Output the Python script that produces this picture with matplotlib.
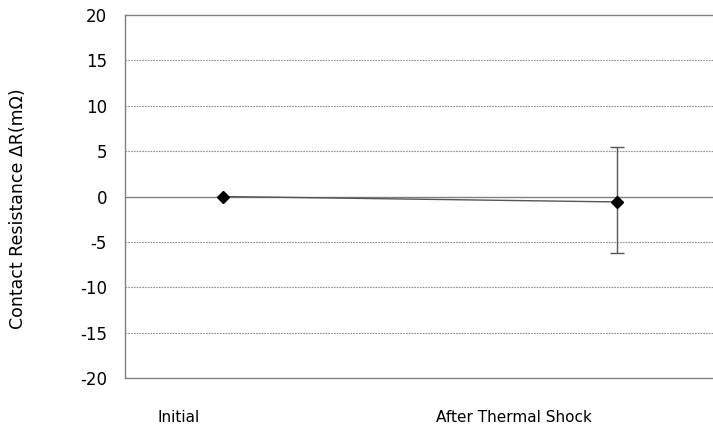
import matplotlib
matplotlib.use("Agg")
import matplotlib.pyplot as plt

categories = ["Initial", "After Thermal Shock"]
delta_r = [0.0, -0.6]
err_low = [0.0, 5.6]
err_high = [0.0, 6.1]
y_ticks = [-20, -15, -10, -5, 0, 5, 10, 15, 20]

plt.rcParams["font.family"] = ["DejaVu Sans"]
plt.rcParams["axes.unicode_minus"] = False

fig = plt.figure(figsize=(7.13, 4.25), dpi=100)
ax = fig.add_axes([125 / 713, 1 - 378 / 425, 1 - 125 / 713, 363 / 425])

x = list(range(len(categories)))
ax.plot(x, delta_r, color="#555555", lw=1, zorder=3)
ax.errorbar(x[1:], delta_r[1:], yerr=[err_low[1:], err_high[1:]], fmt="none",
            ecolor="#555555", elinewidth=1, capsize=5, capthick=1, zorder=3)
ax.plot(x, delta_r, ls="none", marker="D", ms=6, color="black", zorder=4)

ax.set_ylim(-20, 20)
ax.set_yticks(y_ticks)
ax.tick_params(axis="y", length=0, pad=13, labelsize=12)
ax.set_xlim(-0.249, 1.244)

# category labels sit left of the points, as in the source
ax.set_xticks([-0.114, 0.739])
ax.set_xticklabels(categories)
ax.tick_params(axis="x", length=0, pad=23, labelsize=11)

for v in y_ticks:
    if v in (-20, 20):
        continue
    if v == 0:
        ax.axhline(0, color="#808080", lw=1, zorder=1)
    else:
        ax.axhline(v, color="#909090", lw=0.8, ls=(0, (1.5, 1)), zorder=1)

for s in ("left", "bottom", "top"):
    ax.spines[s].set_color("#808080")
    ax.spines[s].set_linewidth(1)
ax.spines["right"].set_visible(False)

fig.text(18 / 713, 1 - 209 / 425, "Contact Resistance ΔR(mΩ)", rotation=90,
         ha="center", va="center", fontsize=12.5)

fig.savefig("out.png", dpi=100)
